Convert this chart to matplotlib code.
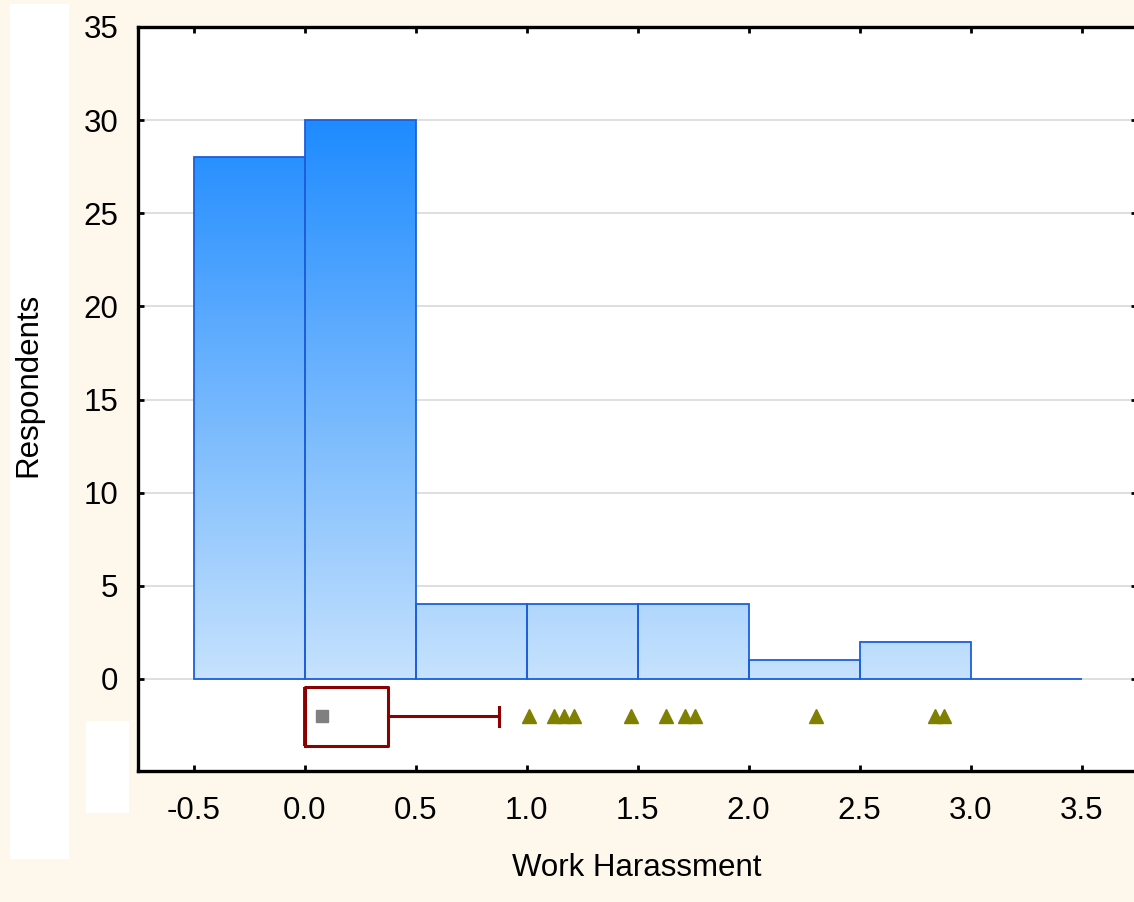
import numpy as np
import matplotlib.pyplot as plt
from matplotlib.colors import LinearSegmentedColormap
from matplotlib.patches import Rectangle

plt.rcParams['font.family'] = ['Liberation Sans', 'DejaVu Sans']

# histogram of work harassment scores
bin_edges = [-0.5, 0.0, 0.5, 1.0, 1.5, 2.0, 2.5, 3.0, 3.5]
counts = [28, 30, 4, 4, 4, 1, 2, 0]

# box plot summary
q1, median, q3 = 0.0, 0.0, 0.375
whisker_lo, whisker_hi = 0.0, 0.874
mean_value = 0.08
outliers = [1.01, 1.123, 1.168, 1.213, 1.472, 1.629, 1.713, 1.761, 2.305, 2.838, 2.88]

xticks = [-0.5, 0.0, 0.5, 1.0, 1.5, 2.0, 2.5, 3.0, 3.5]
yticks = [0, 5, 10, 15, 20, 25, 30, 35]

bg = '#FEF8EC'
fs = 22.5
fig = plt.figure(figsize=(11.34, 9.02), dpi=100, facecolor=bg)

# white panels behind the left margin
fig.patches.append(Rectangle((10 / 1134, 1 - 859 / 902), 59 / 1134, 855 / 902,
                             transform=fig.transFigure, facecolor='white', edgecolor='none', zorder=0))
fig.patches.append(Rectangle((86 / 1134, 1 - 813 / 902), 43 / 1134, 92 / 902,
                             transform=fig.transFigure, facecolor='white', edgecolor='none', zorder=0))

ax = fig.add_axes([138 / 1134, 131 / 902, 999 / 1134, 744 / 902])
ax.set_facecolor('white')

grad = LinearSegmentedColormap.from_list('bars', ['#C6E2FD', '#1E8BFF'])
vmax = max(counts)
for left, right, h in zip(bin_edges[:-1], bin_edges[1:], counts):
    if h > 0:
        col = np.linspace(0, h, 256).reshape(-1, 1)
        ax.imshow(col, cmap=grad, vmin=0, vmax=vmax, extent=(left, right, 0, h),
                  origin='lower', aspect='auto', zorder=2, interpolation='bilinear')
ax.bar(bin_edges[:-1], counts, width=np.diff(bin_edges), align='edge',
       facecolor='none', edgecolor='#1D5FDA', linewidth=1.3, zorder=3)

# box plot under the histogram
stats = [dict(med=median, q1=q1, q3=q3, whislo=whisker_lo, whishi=whisker_hi,
              mean=mean_value, fliers=outliers)]
red = '#8B0000'
ax.bxp(stats, positions=[-2.0], widths=[3.16], orientation='horizontal',
       showmeans=True, manage_ticks=False, capwidths=[1.0],
       boxprops=dict(color=red, linewidth=2.2),
       medianprops=dict(color=red, linewidth=2.8),
       whiskerprops=dict(color=red, linewidth=2.2),
       capprops=dict(color=red, linewidth=2.2),
       meanprops=dict(marker='s', markerfacecolor='#808080', markeredgecolor='#808080',
                      markersize=9),
       flierprops=dict(marker='^', markerfacecolor='#808000', markeredgecolor='#808000',
                       markersize=10, linestyle='none'),
       zorder=4)

ax.set_xlim(-0.75, 3.75)
ax.set_ylim(-4.94, 35)
ax.set_xticks(xticks)
ax.set_xticklabels([f'{v:.1f}' for v in xticks])
ax.set_yticks(yticks)
ax.grid(axis='y', color='#D9D9D9', linewidth=1.2, zorder=1)
ax.set_axisbelow(True)

for side in ['left', 'top', 'bottom']:
    ax.spines[side].set_linewidth(2.4)
ax.spines['right'].set_visible(False)
ax.tick_params(direction='in', length=4, width=2, top=True, right=True,
               labelsize=fs, colors='black')
ax.tick_params(axis='x', pad=18)
ax.tick_params(axis='y', pad=14)

fig.text(637 / 1134, 1 - 868 / 902, 'Work Harassment', fontsize=fs,
         ha='center', va='center')
fig.text(28 / 1134, 1 - 385 / 902, 'Respondents', fontsize=fs,
         ha='center', va='center', rotation=90)

fig.savefig('out.png', dpi=100, facecolor=bg)
